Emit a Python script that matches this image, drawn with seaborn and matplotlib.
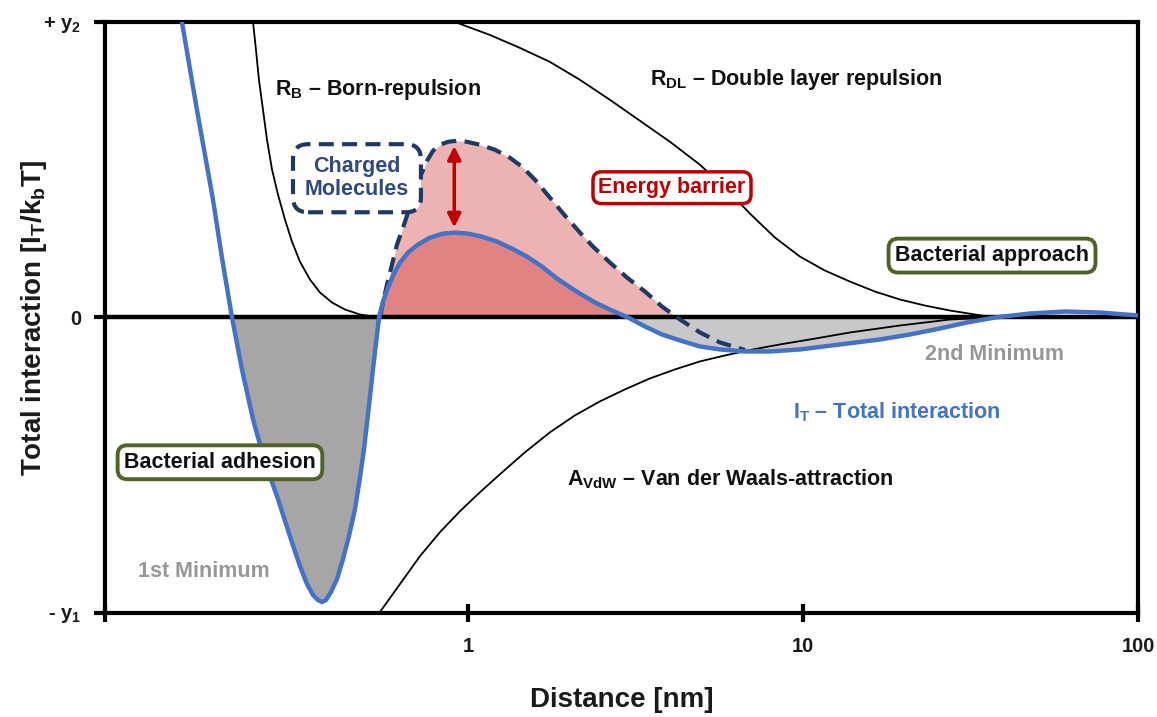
import numpy as np
import matplotlib
matplotlib.use("Agg")
import matplotlib.pyplot as plt
import seaborn as sns
from matplotlib.ticker import NullLocator

# ---------------- data ----------------
total_x = [0.1400, 0.1552, 0.1733, 0.1843, 0.1975, 0.2115, 0.2282, 0.2477, 0.2710, 0.2941,
           0.3150, 0.3307, 0.3446, 0.3566, 0.3666, 0.3768, 0.3899, 0.4064, 0.4235, 0.4412,
           0.4599, 0.4760, 0.4893, 0.5029, 0.5204, 0.5424, 0.5575, 0.5770, 0.6013, 0.6266,
           0.6621, 0.7090, 0.7700, 0.8423, 0.9146, 1.0, 1.1010, 1.2209, 1.3533, 1.5001,
           1.6631, 1.8438, 2.0865, 2.3941, 2.6915, 3.003, 3.376, 3.794, 4.294, 4.926,
           5.652, 6.712, 7.970, 9.795, 12.90, 16.98, 20.87, 25.64, 30.87, 37.42,
           47.60, 60.55, 77.01, 100.0]
total_y = [1.0, 0.7027, 0.3986, 0.2027, 0.0, -0.1757, -0.3446, -0.4899, -0.6149, -0.7399,
           -0.8412, -0.9020, -0.9392, -0.9561, -0.9628, -0.9561, -0.9291, -0.8851, -0.8176, -0.7399,
           -0.6486, -0.5405, -0.4459, -0.3277, -0.1757, 0.0, 0.0541, 0.1014, 0.1486, 0.1858,
           0.2196, 0.2466, 0.2703, 0.2838, 0.2872, 0.2838, 0.2736, 0.2568, 0.2331, 0.2061,
           0.1723, 0.1318, 0.0912, 0.0507, 0.0236, 0.0, -0.0304, -0.0574, -0.0777, -0.0980,
           -0.1081, -0.1149, -0.1149, -0.1081, -0.0912, -0.0743, -0.0574, -0.0372, -0.0169, 0.0,
           0.0135, 0.0203, 0.0169, 0.0068]

charged_x = [0.5462, 0.5575, 0.5731, 0.5931, 0.6138, 0.6397, 0.6666, 0.6947, 0.7239, 0.7545,
             0.7862, 0.8248, 0.8716, 0.9271, 0.9931, 1.0861, 1.2040, 1.3348, 1.4495, 1.5849,
             1.7568, 1.9480, 2.160, 2.3613, 2.6540, 2.9830, 3.376, 3.794, 4.294, 4.926,
             5.652, 6.712]
charged_y = [0.0, 0.0507, 0.1115, 0.1791, 0.2466, 0.3041, 0.3649, 0.4257, 0.4831, 0.5304,
             0.5642, 0.5845, 0.5946, 0.5980, 0.5946, 0.5845, 0.5676, 0.5405, 0.5101, 0.4662,
             0.4054, 0.3446, 0.2872, 0.2399, 0.1858, 0.1351, 0.0878, 0.0372, -0.0068, -0.0507,
             -0.0845, -0.110]

born_x = [0.2282, 0.2329, 0.2377, 0.2444, 0.2512, 0.2601, 0.2710, 0.2843, 0.2983, 0.3150,
          0.3376, 0.3616, 0.3927, 0.4294, 0.4760, 0.5462, 0.6266]
born_y = [1.0, 0.9054, 0.8041, 0.7027, 0.6014, 0.5, 0.4155, 0.3311, 0.2568, 0.1892,
          0.1284, 0.0845, 0.0507, 0.0270, 0.0101, 0.0, 0.0]

dl_x = [0.9146, 1.1633, 1.4299, 1.7568, 2.160, 2.6540, 3.262, 4.009, 4.926, 5.851,
        6.947, 8.250, 9.795, 11.63, 13.81, 16.40, 19.48, 23.13, 27.47, 32.62, 37.42]
dl_y = [1.0, 0.9561, 0.9122, 0.8649, 0.8041, 0.7365, 0.6655, 0.5946, 0.5169, 0.4392,
        0.3514, 0.2703, 0.2061, 0.1588, 0.1216, 0.0878, 0.0608, 0.0405, 0.0236, 0.0101, 0.0]

vdw_x = [0.5462, 0.6266, 0.7192, 0.8248, 0.9465, 1.0861, 1.2458, 1.4797, 1.7568, 2.0865,
         2.477, 2.9424, 3.494, 4.148, 4.926, 5.851, 7.091, 8.536, 10.49, 13.81,
         19.48, 27.47, 36.91]
vdw_y = [-0.9966, -0.9020, -0.8074, -0.7264, -0.6554, -0.5912, -0.5304, -0.4561, -0.3885, -0.3311,
         -0.2838, -0.2432, -0.2061, -0.1757, -0.1486, -0.1284, -0.1081, -0.0912, -0.0743, -0.0507,
         -0.0270, -0.0068, 0.0]

x_tick_values = [0.0825, 1, 10, 100]
x_tick_labels = ["", "1", "10", "100"]
y_tick_values = [-1, 0, 1]
y_tick_labels = ["- y$_1$", "0", "+ y$_2$"]

# ---------------- style ----------------
sns.set_theme(style="white")
plt.rcParams["font.family"] = ["Liberation Sans", "DejaVu Sans"]
plt.rcParams["font.weight"] = "bold"
plt.rcParams["mathtext.fontset"] = "custom"
plt.rcParams["mathtext.rm"] = "Liberation Sans:bold"
plt.rcParams["mathtext.it"] = "Liberation Sans:bold"
plt.rcParams["mathtext.bf"] = "Liberation Sans:bold"
plt.rcParams["mathtext.sf"] = "Liberation Sans:bold"

BLUE = "#4472C4"
NAVY = "#1F3864"
RED = "#C00000"
GREEN = "#4F6228"
GRAYTXT = "#979797"

fig = plt.figure(figsize=(11.57, 7.17), dpi=100)
ax = fig.add_axes([0.09075, 0.14505, 0.89283, 0.82427])
ax.set_xscale("log")

tx = np.array(total_x); ty = np.array(total_y)
cx = np.array(charged_x); cy = np.array(charged_y)

# fills
ax.fill_between(cx, cy, 0, where=cy >= 0, interpolate=True, color="#EDB3B3", lw=0, zorder=1)
ax.fill_between(tx, ty, 0, where=(ty >= 0) & (tx > 0.5) & (tx < 3.2), interpolate=True,
                color="#E28383", lw=0, zorder=1.1)
ax.fill_between(tx, ty, 0, where=(ty <= 0) & (tx < 1), interpolate=True,
                color="#A6A6A6", lw=0, zorder=1)
ax.fill_between(tx, ty, 0, where=(ty <= 0) & (tx > 2) & (tx < 40), interpolate=True,
                color="#C8C8C8", lw=0, zorder=1)

# black component curves
for xs, ys in [(born_x, born_y), (dl_x, dl_y), (vdw_x, vdw_y)]:
    sns.lineplot(x=xs, y=ys, ax=ax, color="black", lw=1.3, sort=False,
                 estimator=None, zorder=2)

# zero line
ax.axhline(0, color="black", lw=3.2, zorder=3)

# charged molecules (dashed) and total interaction
sns.lineplot(x=charged_x, y=charged_y, ax=ax, color=NAVY, lw=3, sort=False,
             estimator=None, linestyle=(0, (3.6, 2.0)), zorder=4)
sns.lineplot(x=total_x, y=total_y, ax=ax, color=BLUE, lw=3.2, sort=False,
             estimator=None, zorder=5)

# energy barrier arrow
ax.annotate("", xy=(0.91, 0.305), xytext=(0.91, 0.58),
            arrowprops=dict(arrowstyle="<|-|>", color=RED, lw=2.5,
                            mutation_scale=20, shrinkA=0, shrinkB=0), zorder=6)

# axes limits, spines, ticks
ax.set_xlim(0.0825, 100)
ax.set_ylim(-1, 1)
for s in ax.spines.values():
    s.set_visible(True)
    s.set_linewidth(3)
    s.set_color("black")
ax.set_xticks(x_tick_values)
ax.set_xticklabels(x_tick_labels)
ax.xaxis.set_minor_locator(NullLocator())
ax.yaxis.set_minor_locator(NullLocator())
ax.set_yticks(y_tick_values)
ax.set_yticklabels(y_tick_labels)
ax.tick_params(axis="x", which="major", bottom=True, top=False, direction="inout",
               length=13, width=3, color="black", labelsize=14.5, pad=11,
               labelcolor="#1a1a1a")
ax.tick_params(axis="y", which="major", left=True, right=False, direction="out",
               length=8, width=3, color="black", labelsize=14.5, pad=9,
               labelcolor="#1a1a1a")
for lab in ax.get_xticklabels() + ax.get_yticklabels():
    lab.set_fontweight("bold")
ax.grid(False)

ax.set_xlabel("Distance [nm]", fontsize=20, fontweight="bold", labelpad=22, color="#1a1a1a")
ax.set_ylabel("Total interaction [I$_T$/k$_b$T]", fontsize=20, fontweight="bold",
              labelpad=-4, color="#1a1a1a")

# labels
fs = 15.5
ax.text(0.2654, 0.770, "R$_B$ – Born-repulsion", fontsize=fs, ha="left", va="center",
        color="#111111", zorder=7)
ax.text(3.494, 0.804, "R$_{DL}$ – Double layer repulsion", fontsize=fs, ha="left",
        va="center", color="#111111", zorder=7)
ax.text(1.975, -0.547, "A$_{VdW}$ – Van der Waals-attraction", fontsize=fs, ha="left",
        va="center", color="#111111", zorder=7)
ax.text(9.336, -0.321, "I$_T$ – Total interaction", fontsize=fs, ha="left",
        va="center", color=BLUE, zorder=7)
ax.text(0.1623, -0.858, "1st Minimum", fontsize=fs, ha="center", va="center",
        color=GRAYTXT, zorder=7)
ax.text(37.42, -0.125, "2nd Minimum", fontsize=fs, ha="center", va="center",
        color=GRAYTXT, zorder=7)
ax.text(0.4662, 0.4713, "Charged\nMolecules", fontsize=fs, ha="center", va="center",
        color="#2F4B7C", linespacing=1.15, zorder=7,
        bbox=dict(boxstyle="round,pad=0.55,rounding_size=0.7", fc="white", ec=NAVY,
                  lw=3, ls=(0, (3.6, 2.0))))
ax.text(4.064, 0.4392, "Energy barrier", fontsize=fs, ha="center", va="center",
        color=RED, zorder=7,
        bbox=dict(boxstyle="round,pad=0.25,rounding_size=0.4", fc="white", ec=RED, lw=2.5))
ax.text(36.66, 0.2095, "Bacterial approach", fontsize=fs, ha="center", va="center",
        color="#111111", zorder=7,
        bbox=dict(boxstyle="round,pad=0.3,rounding_size=0.45", fc="white", ec=GREEN, lw=2.8))
ax.text(0.1818, -0.4899, "Bacterial adhesion", fontsize=fs, ha="center", va="center",
        color="#111111", zorder=7,
        bbox=dict(boxstyle="round,pad=0.3,rounding_size=0.45", fc="white", ec=GREEN, lw=2.8))

fig.savefig("out.png", dpi=100)
